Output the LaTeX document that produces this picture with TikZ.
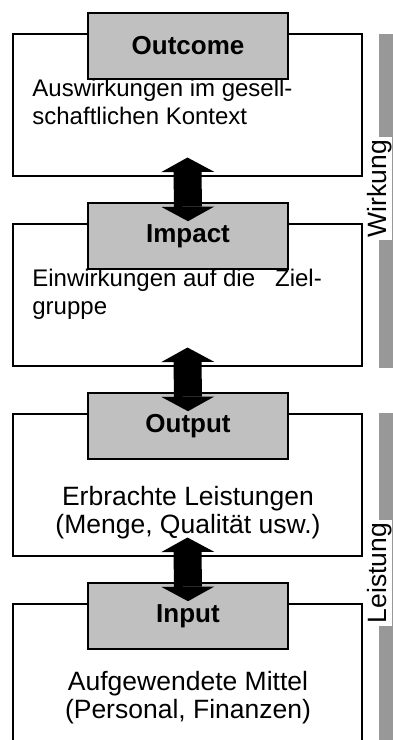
\documentclass[tikz,border=0pt]{standalone}
\usepackage{fontspec}
\setmainfont{Liberation Sans}
\usetikzlibrary{arrows.meta,positioning}
\definecolor{titlegray}{RGB}{192,192,192}
\definecolor{bargray}{RGB}{152,152,152}

\begin{document}
\begin{tikzpicture}[x=1pt, y=1pt,
		box/.style={draw, line width=1.6pt, minimum width=349pt, minimum height=142pt, inner sep=0pt},
		title/.style={draw, line width=1.6pt, fill=titlegray, minimum width=200pt, minimum height=66pt, inner sep=0pt, font=\bfseries\fontsize{26}{30}\selectfont},
		body/.style={inner sep=0pt, align=left, font=\fontsize{24}{28.5}\selectfont},
		bigbody/.style={inner sep=0pt, align=center, font=\fontsize{26.5}{28}\selectfont},
		flow/.style={line width=28pt, {Triangle[width=53pt, length=14.5pt, line width=0pt]}-{Triangle[width=53pt, length=14.5pt, line width=0pt]}},
		side/.style={rotate=90, anchor=base, fill=white, inner xsep=3pt, inner ysep=0.8pt, font=\fontsize{26.5}{30}\selectfont} ]
	\useasboundingbox (0,0) rectangle (393,-740);
	\clip (0,0) rectangle (393,-740);
	\fill[bargray] (379,-34) rectangle (393,-368);
	\fill[bargray] (379,-413) rectangle (393,-740);
	\node[side] (wirkung) at (386,-188.5) {Wirkung};
	\node[side] (leistung) at (386,-573) {Leistung};
	\node[box] (outcomebox) at (187.5,-105) {};
	\node[box] (impactbox) at (187.5,-295) {};
	\node[box] (outputbox) at (187.5,-485) {};
	\node[box] (inputbox) at (187.5,-675) {};
	\node[title] (outcome) at (188,-46) {Outcome};
	\node[title] (impact) at (188,-236) {Impact};
	\node[title] (output) at (188,-426) {Output};
	\node[title] (input) at (188,-616) {Input};
	\node[body, below right=45.5pt and 20pt of outcomebox.north west] (outcometext) {Auswirkungen im gesell-\\schaftlichen Kontext};
	\node[body, below right=45.5pt and 20pt of impactbox.north west] (impacttext) {Einwirkungen auf die\hspace{20pt}Ziel-\\gruppe};
	\node[bigbody, below=26pt of output] (outputtext) {Erbrachte Leistungen\\(Menge, Qualität usw.)};
	\node[bigbody, below=21pt of input] (inputtext) {Aufgewendete Mittel\\(Personal, Finanzen)};
	\draw[flow] ([yshift=19.3pt]outcomebox.south) -- ([yshift=-19pt]impact.north);
	\draw[flow] ([yshift=19.3pt]impactbox.south) -- ([yshift=-19pt]output.north);
	\draw[flow] ([yshift=19.3pt]outputbox.south) -- ([yshift=-19pt]input.north);
\end{tikzpicture}
\end{document}
